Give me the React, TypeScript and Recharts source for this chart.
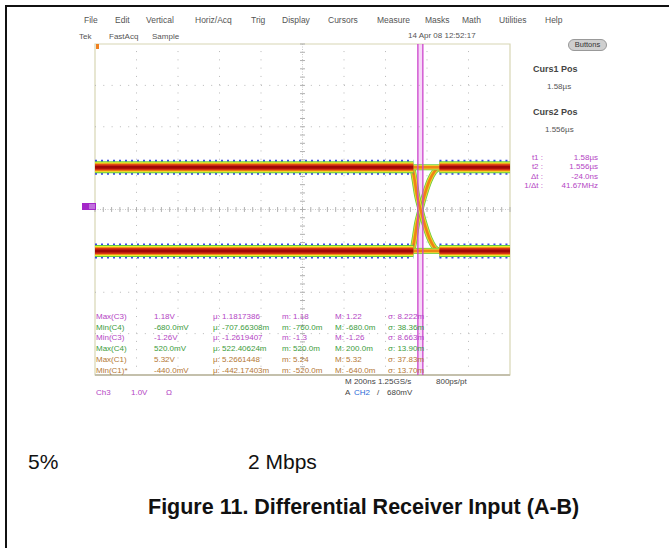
import React from "react";
import { LineChart, Line, XAxis, YAxis, ReferenceLine, ReferenceArea } from "recharts";

// scope graticule: 200ns/div horizontally, 1.0V/div vertically
const timeTicks = [0, 200, 400, 600, 800, 1000, 1200, 1400, 1600, 1800, 2000];
const voltTicks = [-4, -3, -2, -1, 0, 1, 2, 3, 4];

// eye diagram traces (ns, V)
const highLeft = [{ t: 0, v: 1.02 }, { t: 1534, v: 1.02 }];
const highMid = [{ t: 1534, v: 1.02 }, { t: 1660, v: 1.02 }];
const highRight = [{ t: 1660, v: 1.02 }, { t: 2000, v: 1.02 }];
const lowLeft = [{ t: 0, v: -1.0 }, { t: 1534, v: -1.0 }];
const lowMid = [{ t: 1534, v: -1.0 }, { t: 1660, v: -1.0 }];
const lowRight = [{ t: 1660, v: -1.0 }, { t: 2000, v: -1.0 }];
const risingEdge = [
  { t: 1530, v: -1.0 }, { t: 1540, v: -0.72 }, { t: 1552, v: -0.34 }, { t: 1570, v: 0.02 },
  { t: 1590, v: 0.38 }, { t: 1612, v: 0.7 }, { t: 1636, v: 0.92 }, { t: 1660, v: 1.02 },
];
const fallingEdge = [
  { t: 1530, v: 1.02 }, { t: 1540, v: 0.72 }, { t: 1552, v: 0.34 }, { t: 1570, v: -0.02 },
  { t: 1590, v: -0.38 }, { t: 1612, v: -0.7 }, { t: 1636, v: -0.92 }, { t: 1660, v: -1.0 },
];

const cursorTimes = [1556, 1580];

const menuItems = ["File", "Edit", "Vertical", "Horiz/Acq", "Trig", "Display", "Cursors", "Measure", "Masks", "Math", "Utilities", "Help"];
const measLabels = ["Max(C3)", "Min(C4)", "Min(C3)", "Max(C4)", "Max(C1)", "Min(C1)*"];
const measValues = ["1.18V", "-680.0mV", "-1.26V", "520.0mV", "5.32V", "-440.0mV"];
const measMean = ["1.1817386", "-707.66308m", "-1.2619407", "522.40624m", "5.2661448", "-442.17403m"];
const measMin = ["1.18", "-760.0m", "-1.3", "520.0m", "5.24", "-520.0m"];
const measMax = ["1.22", "-680.0m", "-1.26", "200.0m", "5.32", "-640.0m"];
const measStd = ["8.222m", "38.36m", "8.663m", "13.90m", "37.83m", "13.70m"];
const cursorLabels = ["t1 :", "t2 :", "\u0394t :", "1/\u0394t :"];
const cursorValues = ["1.58\u00b5s", "1.556\u00b5s", "-24.0ns", "41.67MHz"];

const measColors = ["#b444c4", "#3c9c3c", "#b444c4", "#3c9c3c", "#b47834", "#b47834"];
const menuX = [84, 115, 146, 195, 251, 282, 328, 377, 425, 462, 499, 545];
const minorTime = Array.from({ length: 51 }, (_, i) => i * 40);
const minorVolt = Array.from({ length: 41 }, (_, i) => -4 + i * 0.2);

const flatLayers = [
  { c: "#3848e8", w: 15, d: "2 4" },
  { c: "#66cc3c", w: 12 },
  { c: "#ecec34", w: 10 },
  { c: "#f09414", w: 8 },
  { c: "#d83414", w: 6 },
  { c: "#a00808", w: 3 },
];
const thinLayers = [
  { c: "#66cc3c", w: 6 },
  { c: "#ecd834", w: 4.5 },
  { c: "#f08414", w: 2.6 },
];

const font = "'Liberation Sans', Arial, sans-serif";

function Txt({ x, y, children, size = 8, color = "#444", bold = false, anchor = "start" }: any) {
  const tr = anchor === "end" ? "translateX(-100%)" : anchor === "middle" ? "translateX(-50%)" : "none";
  return (
    <div
      style={{
        position: "absolute", left: x, top: y - size / 2 - 1, fontSize: size, lineHeight: `${size + 2}px`,
        color, fontWeight: bold ? 700 : 400, fontFamily: font, whiteSpace: "pre", transform: tr,
      }}
    >
      {children}
    </div>
  );
}

export default function App() {
  const rows = [316.7, 327.5, 338.3, 349.2, 360.2, 371];
  return (
    <div style={{ position: "absolute", left: 0, top: 0, width: 669, height: 548, background: "#fff", overflow: "hidden" }}>
      <div style={{ position: "absolute", left: 6, top: 5, width: 663, height: 2, background: "#111" }} />
      <div style={{ position: "absolute", left: 5, top: 5, width: 2, height: 543, background: "#111" }} />

      <div style={{ position: "absolute", left: 0, top: 0 }}>
        <LineChart width={669} height={548} margin={{ top: 44, right: 159, bottom: 173, left: 95 }}>
          <XAxis type="number" dataKey="t" domain={[0, 2000]} ticks={timeTicks} hide allowDataOverflow />
          <YAxis type="number" dataKey="v" domain={[-4, 4]} ticks={voltTicks} hide allowDataOverflow />
          {timeTicks.slice(1, -1).map((t) =>
            t === 1000 ? null : (
              <ReferenceLine key={"gx" + t} x={t} stroke="#b8b8b8" strokeDasharray="1 7.28" />
            )
          )}
          {voltTicks.slice(1, -1).map((v) =>
            v === 0 ? null : (
              <ReferenceLine key={"gy" + v} y={v} stroke="#b8b8b8" strokeDasharray="1 7.3" />
            )
          )}
          <ReferenceLine x={1000} stroke="#c8c8c8" strokeDasharray="1 1.5" />
          <ReferenceLine y={0} stroke="#c8c8c8" strokeDasharray="1 1.5" />
          {minorTime.map((t) => (
            <ReferenceLine key={"mt" + t} segment={[{ x: t, y: -0.06 }, { x: t, y: 0.06 }]} stroke="#b0b0b0" />
          ))}
          {minorVolt.map((v) => (
            <ReferenceLine key={"mv" + v} segment={[{ x: 988, y: v }, { x: 1012, y: v }]} stroke="#b0b0b0" />
          ))}
          <ReferenceArea x1={0} x2={2000} y1={-4} y2={4} fill="none" stroke="#d8d6b4" strokeWidth={1.2} />
          <ReferenceLine y={-4} stroke="#c4c0ac" strokeWidth={2} />

          {thinLayers.map((l, i) => (
            <Line key={"re" + i} data={risingEdge} dataKey="v" type="monotone" stroke={l.c} strokeWidth={l.w} dot={false} isAnimationActive={false} />
          ))}
          {thinLayers.map((l, i) => (
            <Line key={"fe" + i} data={fallingEdge} dataKey="v" type="monotone" stroke={l.c} strokeWidth={l.w} dot={false} isAnimationActive={false} />
          ))}
          {[highMid, lowMid].map((d, j) =>
            thinLayers.map((l, i) => (
              <Line key={"m" + j + i} data={d} dataKey="v" stroke={l.c} strokeWidth={l.w} dot={false} isAnimationActive={false} />
            ))
          )}
          {[highLeft, highRight, lowLeft, lowRight].map((d, j) =>
            flatLayers.map((l, i) => (
              <Line
                key={"f" + j + i}
                data={d}
                dataKey="v"
                stroke={l.c}
                strokeWidth={l.w}
                strokeDasharray={l.d}
                dot={false}
                isAnimationActive={false}
              />
            ))
          )}
          <ReferenceArea x1={cursorTimes[0]} x2={cursorTimes[1]} fill="#e890ec" fillOpacity={0.35} stroke="none" />
          {cursorTimes.map((t) => (
            <ReferenceLine key={"c" + t} x={t} stroke="#cc44cc" strokeWidth={1.3} />
          ))}
        </LineChart>
      </div>

      {/* trigger and channel markers */}
      <div style={{ position: "absolute", left: 96, top: 44, width: 3, height: 5, background: "#f08020" }} />
      <div style={{ position: "absolute", left: 82, top: 203, width: 14, height: 7, background: "#a428c8" }} />
      <div style={{ position: "absolute", left: 89, top: 204, width: 6, height: 5, background: "#c070dc" }} />

      {menuItems.map((m, i) => (
        <Txt key={m} x={menuX[i]} y={20.5} size={8.5} color="#555">{m}</Txt>
      ))}
      <Txt x={79} y={36.5} size={8} color="#555">Tek</Txt>
      <Txt x={109} y={36.5} size={8} color="#555">FastAcq</Txt>
      <Txt x={152} y={36.5} size={8} color="#555">Sample</Txt>
      <Txt x={408} y={36} size={8} color="#555">14 Apr 08 12:52:17</Txt>

      <div
        style={{
          position: "absolute", left: 568, top: 39, width: 39, height: 12, borderRadius: 6, background: "#cfcfcf",
          border: "1px solid #999", boxSizing: "border-box", fontFamily: font, fontSize: 7.5, lineHeight: "10px",
          textAlign: "center", color: "#333",
        }}
      >
        Buttons
      </div>

      <Txt x={533} y={69.5} size={9} bold color="#444">Curs1 Pos</Txt>
      <Txt x={547} y={87} size={8} color="#555">1.58µs</Txt>
      <Txt x={533} y={112.5} size={9} bold color="#444">Curs2 Pos</Txt>
      <Txt x={545} y={130} size={8} color="#555">1.556µs</Txt>
      {cursorLabels.map((l, i) => (
        <React.Fragment key={l}>
          <Txt x={543} y={158 + i * 9.3} size={8} color="#b444c4" anchor="end">{l}</Txt>
          <Txt x={598} y={158 + i * 9.3} size={8} color="#b444c4" anchor="end">{cursorValues[i]}</Txt>
        </React.Fragment>
      ))}

      {measLabels.map((l, i) => (
        <React.Fragment key={l}>
          <Txt x={96} y={rows[i]} color={measColors[i]}>{l}</Txt>
          <Txt x={154} y={rows[i]} color={measColors[i]}>{measValues[i]}</Txt>
          <Txt x={213} y={rows[i]} color={measColors[i]}>{"\u03bc: " + measMean[i]}</Txt>
          <Txt x={282} y={rows[i]} color={measColors[i]}>{"m: " + measMin[i]}</Txt>
          <Txt x={335} y={rows[i]} color={measColors[i]}>{"M: " + measMax[i]}</Txt>
          <Txt x={388} y={rows[i]} color={measColors[i]}>{"\u03c3: " + measStd[i]}</Txt>
        </React.Fragment>
      ))}

      <Txt x={96} y={393} color="#b444c4">Ch3</Txt>
      <Txt x={131} y={393} color="#b444c4">1.0V</Txt>
      <Txt x={166} y={393} color="#b444c4">Ω</Txt>
      <Txt x={345} y={382} color="#444">M 200ns 1.25GS/s</Txt>
      <Txt x={436} y={382} color="#444">800ps/pt</Txt>
      <Txt x={345} y={393} color="#444">A</Txt>
      <Txt x={354} y={393} color="#2a6ad8">CH2</Txt>
      <Txt x={377} y={393} color="#444">/</Txt>
      <Txt x={387} y={393} color="#444">680mV</Txt>

      <Txt x={28} y={461} size={21} color="#111">5%</Txt>
      <Txt x={248} y={461} size={21} color="#111">2 Mbps</Txt>
      <Txt x={148} y={508} size={21.5} bold color="#111">Figure 11. Differential Receiver Input (A-B)</Txt>
    </div>
  );
}
